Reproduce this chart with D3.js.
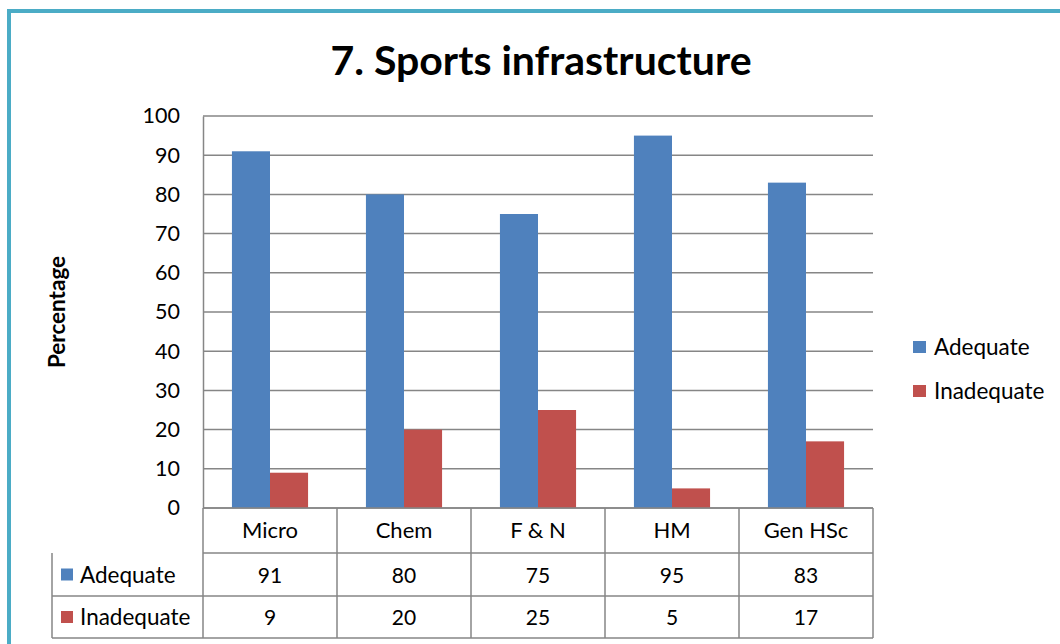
<!DOCTYPE html>
<html>
<head>
<meta charset="utf-8">
<script src="https://cdn.jsdelivr.net/npm/d3@7"></script>
<style>
  body { margin: 0; background: #fff; }
  text { font-family: Lato, "Open Sans", sans-serif; fill: #000; }
</style>
</head>
<body>
<svg id="chart"></svg>
<script>
// chart values
var categories = ["Micro", "Chem", "F & N", "HM", "Gen HSc"];
var adequate = [91, 80, 75, 95, 83];
var inadequate = [9, 20, 25, 5, 17];
var seriesNames = ["Adequate", "Inadequate"];
var yTicks = [0, 10, 20, 30, 40, 50, 60, 70, 80, 90, 100];

var screen = {width: 1060, height: 644}
var plot = {left: 203, right: 873, top: 116, bottom: 508}
var colors = ["#4F81BD", "#C0504D"]
var gridColor = "#868686"

var svg = d3.select("#chart")
    .attr("width", screen.width)
    .attr("height", screen.height)

// outer border
svg.append("rect")
    .attr("x", 9).attr("y", 11)
    .attr("width", 1070).attr("height", 660)
    .attr("fill", "none")
    .attr("stroke", "#4BACC6")
    .attr("stroke-width", 4)

svg.append("text")
    .attr("x", 541).attr("y", 75)
    .attr("text-anchor", "middle")
    .style("font-size", "41px")
    .style("font-weight", "bold")
    .text("7. Sports infrastructure")

var xScale = d3.scaleBand()
    .domain(categories)
    .range([plot.left, plot.right])
var x1 = d3.scaleBand()
    .domain(seriesNames)
    .range([0, xScale.bandwidth()])
    .paddingOuter(0.76)
var yScale = d3.scaleLinear()
    .domain([0, 100])
    .range([plot.bottom, plot.top])

// gridlines
svg.append("g")
    .selectAll("line")
    .data(yTicks)
    .enter()
    .append("line")
    .attr("x1", plot.left).attr("x2", plot.right)
    .attr("y1", function(d){ return yScale(d) })
    .attr("y2", function(d){ return yScale(d) })
    .attr("stroke", gridColor)
    .attr("stroke-width", 1.5)

// y axis
var yAxis = d3.axisLeft(yScale).tickValues(yTicks).tickSize(0).tickPadding(23)
var yg = svg.append("g")
    .attr("transform", "translate(" + plot.left + ",0)")
    .call(yAxis)
yg.select(".domain").attr("stroke", gridColor).attr("stroke-width", 1.5)
yg.selectAll("text")
    .style("font-size", "21.5px")
    .style("font-family", "Lato, sans-serif")
    .attr("fill", "#000")

svg.append("text")
    .attr("transform", "translate(65," + ((plot.top + plot.bottom) / 2) + ") rotate(-90)")
    .attr("text-anchor", "middle")
    .style("font-size", "22.5px")
    .style("font-weight", "bold")
    .text("Percentage")

// bars
var seriesData = [adequate, inadequate]
seriesData.forEach(function(values, si){
    svg.append("g")
        .selectAll("rect")
        .data(values)
        .enter()
        .append("rect")
        .attr("x", function(d, i){ return xScale(categories[i]) + x1(seriesNames[si]) })
        .attr("width", x1.bandwidth())
        .attr("y", function(d){ return yScale(d) })
        .attr("height", function(d){ return plot.bottom - yScale(d) })
        .attr("fill", colors[si])
})

// legend on the right
var legend = svg.append("g")
    .selectAll("g")
    .data(seriesNames)
    .enter()
    .append("g")
    .attr("transform", function(d, i){ return "translate(913," + (341 + i * 44) + ")" })
legend.append("rect")
    .attr("width", 13).attr("height", 12)
    .attr("fill", function(d, i){ return colors[i] })
legend.append("text")
    .attr("x", 21).attr("y", 14)
    .style("font-size", "22.5px")
    .text(function(d){ return d })

// data table
var rowLines = [plot.bottom, 553, 596, 638]
var tableLeft = 52
var table = svg.append("g")
table.selectAll(".hline")
    .data(rowLines)
    .enter()
    .append("line")
    .attr("x1", function(d, i){ return i < 2 ? plot.left : tableLeft })
    .attr("x2", plot.right)
    .attr("y1", function(d){ return d })
    .attr("y2", function(d){ return d })
    .attr("stroke", gridColor)
    .attr("stroke-width", 1.5)

var colEdges = categories.map(function(c){ return xScale(c) }).concat([plot.right])
table.selectAll(".vline")
    .data(colEdges)
    .enter()
    .append("line")
    .attr("x1", function(d){ return d }).attr("x2", function(d){ return d })
    .attr("y1", plot.bottom).attr("y2", rowLines[3])
    .attr("stroke", gridColor)
    .attr("stroke-width", 1.5)
table.append("line")
    .attr("x1", tableLeft).attr("x2", tableLeft)
    .attr("y1", rowLines[1]).attr("y2", rowLines[3])
    .attr("stroke", gridColor)
    .attr("stroke-width", 1.5)

table.selectAll(".cat")
    .data(categories)
    .enter()
    .append("text")
    .attr("x", function(d){ return xScale(d) + xScale.bandwidth() / 2 })
    .attr("y", 538)
    .attr("text-anchor", "middle")
    .style("font-size", "22px")
    .text(function(d){ return d })

seriesData.forEach(function(values, si){
    var rowMid = (rowLines[si + 1] + rowLines[si + 2]) / 2
    table.selectAll(".val" + si)
        .data(values)
        .enter()
        .append("text")
        .attr("x", function(d, i){ return xScale(categories[i]) + xScale.bandwidth() / 2 })
        .attr("y", rowMid + 8)
        .attr("text-anchor", "middle")
        .style("font-size", "21px")
        .text(function(d){ return d })
    table.append("rect")
        .attr("x", 61).attr("y", rowMid - 6)
        .attr("width", 12).attr("height", 12)
        .attr("fill", colors[si])
    table.append("text")
        .attr("x", 80).attr("y", rowMid + 8)
        .style("font-size", "22.5px")
        .text(seriesNames[si])
})
</script>
</body>
</html>
